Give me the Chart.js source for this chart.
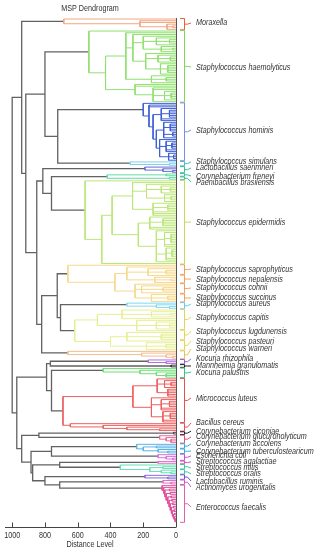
<!DOCTYPE html>
<html>
<head>
<meta charset="utf-8">
<script src="https://cdn.jsdelivr.net/npm/chart.js@4.4.1/dist/chart.umd.min.js"></script>
<style>
  html, body { margin: 0; padding: 0; background: #fff; }
</style>
</head>
<body>
<canvas id="dendro" width="328" height="550"></canvas>
<script>
// clades from top to bottom (leaf counts, colour, level where the clade closes)
const cladeNames = [
  "Moraxella", "S. haemolyticus", "S. hominis", "S. simulans", "L. saerimneri",
  "C. freneyi", "P. brasilensis", "S. epidermidis", "S. saprophyticus grp", "S. aureus",
  "S. capitis grp", "S. warneri", "K. rhizophila", "M. granulomatis", "K. palustris",
  "M. luteus", "B. cereus", "C. ciconiae", "C. glucuronolyticum", "C. accolens grp",
  "E. coli", "S. agalactiae", "S. mitis grp", "L. ruminis", "A. urogenitalis", "E. faecalis"
];
const cladeSizes = [7, 42, 34, 3, 4, 2, 2, 49, 22, 4, 24, 5, 3, 2, 6, 26, 5, 2, 5, 6, 4, 2, 6, 3, 3, 22];
const cladeColors = [
  "#f4a582", "#90e070", "#3f5fd6", "#7dd3ea", "#6a6ad8",
  "#62dca0", "#62dca0", "#bde67a", "#f6d98e", "#80d8f0",
  "#e6ef96", "#f3bc8c", "#b070e0", "#333333", "#72dd78",
  "#ee6060", "#ee6060", "#444444", "#e8709a", "#5ab4e6",
  "#d870d8", "#e070c8", "#66e0b4", "#8a6ae0", "#e070c0", "#e0509e"
];
const cladeRootLevels = [685, 532, 200, 280, 190, 60, 40, 555, 660, 300, 618, 660, 170, 30, 445, 263, 645, 15, 100, 240, 110, 110, 340, 190, 80, 85];

// merges inside each clade: [first leaf, last leaf, level], leaf index relative to the clade
const cladeSubMerges = [
  [[1, 6, 220], [3, 6, 55], [4, 5, 20]],
  [[1, 41, 430], [1, 30, 306], [2, 25, 263], [3, 12, 200], [4, 8, 120], [5, 7, 40], [9, 12, 90], [10, 11, 20],
   [13, 25, 185], [14, 18, 110], [15, 17, 35], [19, 25, 95], [20, 24, 50], [26, 30, 150], [27, 29, 60],
   [31, 41, 250], [33, 41, 140], [35, 40, 70], [36, 39, 30]],
  [[1, 33, 165], [3, 33, 140], [3, 10, 90], [4, 8, 40], [11, 33, 120], [11, 20, 75], [12, 16, 35], [17, 19, 20],
   [21, 33, 100], [22, 28, 60], [23, 26, 25], [29, 33, 45], [30, 32, 15]],
  [[1, 2, 40]],
  [[1, 3, 80], [2, 3, 20]],
  [],
  [],
  [[1, 48, 453], [1, 47, 390], [1, 20, 265], [2, 12, 180], [3, 7, 90], [4, 6, 35], [8, 12, 70], [9, 11, 30],
   [13, 20, 140], [14, 17, 50], [21, 47, 230], [21, 28, 160], [22, 26, 80], [29, 47, 120], [30, 38, 70],
   [31, 36, 30], [39, 46, 60], [40, 44, 25]],
  [[1, 21, 373], [1, 10, 300], [2, 6, 170], [3, 5, 60], [7, 10, 130], [8, 9, 30], [11, 21, 250], [12, 16, 210],
   [13, 15, 80], [17, 21, 150], [18, 20, 50]],
  [[1, 3, 120], [2, 3, 40]],
  [[0, 12, 480], [0, 5, 330], [1, 4, 150], [2, 3, 30], [6, 12, 240], [7, 11, 120], [8, 10, 40],
   [13, 23, 400], [13, 18, 300], [14, 17, 90], [19, 23, 180], [20, 22, 60]],
  [[1, 4, 210], [2, 4, 60], [3, 4, 20]],
  [[1, 2, 60]],
  [],
  [[1, 5, 220], [2, 5, 120], [3, 5, 60]],
  [[0, 10, 115], [1, 5, 70], [2, 4, 30], [6, 10, 50], [11, 25, 150], [12, 18, 90], [13, 16, 40], [19, 25, 80], [20, 23, 35]],
  [[1, 4, 445], [2, 4, 300], [3, 4, 100]],
  [],
  [[1, 4, 60], [2, 4, 30]],
  [[1, 5, 200], [1, 2, 120], [3, 5, 110], [4, 5, 50]],
  [[1, 3, 60], [2, 3, 20]],
  [],
  [[1, 5, 160], [1, 2, 80], [3, 5, 90], [4, 5, 30]],
  [[1, 2, 50]],
  [[1, 2, 30]],
  [[1, 21, 75], [2, 21, 68], [2, 3, 40], [4, 21, 60], [4, 5, 35], [6, 21, 50], [6, 7, 30], [8, 21, 42], [8, 9, 25],
   [10, 21, 35], [10, 11, 20], [12, 21, 28], [12, 13, 15], [14, 21, 22], [14, 15, 12], [16, 21, 16], [16, 17, 8],
   [18, 21, 10], [19, 21, 5]]
];

// merges between clades: [first clade, last clade, level]
const groupMerges = [
  [5, 6, 420], [15, 16, 690],
  [2, 3, 722], [1, 3, 800], [5, 7, 760], [4, 7, 813], [9, 10, 705], [8, 10, 725], [8, 11, 820],
  [4, 11, 850], [1, 11, 917], [0, 11, 942],
  [12, 13, 767], [14, 16, 760], [12, 16, 790], [17, 18, 837], [19, 20, 760], [21, 22, 710],
  [24, 25, 710], [23, 25, 800], [21, 25, 875], [19, 25, 885], [17, 25, 942], [12, 25, 972],
  [0, 25, 1000]
];

// species labels on the right: name, text row, leaf rows covered by the brace, brace colour
const labelNames = [
  "Moraxella", "Staphylococcus haemolyticus", "Staphylococcus hominis", "Staphylococcus simulans",
  "Lactobacillus saerimneri", "Corynebacterium freneyi", "Paenibacillus brasilensis", "Staphylococcus epidermidis",
  "Staphylococcus saprophyticus", "Staphylococcus nepalensis", "Staphylococcus cohnii", "Staphylococcus succinus",
  "Staphylococcus aureus", "Staphylococcus capitis", "Staphylococcus lugdunensis", "Staphylococcus pasteuri",
  "Staphylococcus warneri", "Kocuria rhizophila", "Mannheimia granulomatis", "Kocuria palustris",
  "Micrococcus luteus", "Bacillus cereus", "Corynebacterium ciconiae", "Corynebacterium glucuronolyticum",
  "Corynebacterium accolens", "Corynebacterium tuberculostearicum", "Escherichia coli", "Streptococcus agalactiae",
  "Streptococcus mitis", "Streptococcus oralis", "Lactobacillus ruminis", "Actinomyces urogenitalis",
  "Enterococcus faecalis"
];
const labelRows = [2.3, 27.9, 64.5, 83.0, 86.5, 91.2, 94.7, 117.9, 145.2, 151.0, 156.2, 162.0, 165.5, 173.1,
  181.2, 187.0, 191.6, 197.4, 201.5, 205.0, 220.1, 234.6, 239.3, 242.7, 246.7, 250.9, 253.7, 257.2, 260.7,
  264.2, 268.3, 271.8, 283.4];
const labelSpans = [[0, 6], [7, 48], [49, 82], [83, 85], [86, 89], [90, 91], [92, 93], [94, 142], [143, 148],
  [149, 153], [154, 159], [160, 164], [165, 168], [169, 180], [181, 186], [187, 192], [193, 197], [198, 200],
  [201, 202], [203, 208], [209, 234], [235, 239], [240, 241], [242, 246], [247, 249], [250, 252], [253, 256],
  [257, 258], [259, 261], [262, 264], [265, 267], [268, 270], [271, 292]];
const labelColors = [
  "#e8603c", "#7fd65a", "#7b8fe0", "#4fb8c8", "#3dbf9a", "#3dbf9a", "#3dbf9a", "#c6d85e",
  "#f0a05c", "#f0a05c", "#f0a05c", "#f0a05c", "#6cc6ee", "#e2d65a", "#e2d65a", "#e2d65a",
  "#e8c35a", "#9a5fd6", "#222222", "#3dbf8a", "#e55050", "#e55060", "#222222", "#e0507a",
  "#3aa8e0", "#3aa8e0", "#c850c8", "#d050c0", "#40c8a0", "#40c8a0", "#7050d0", "#c860c8", "#e060b0"
];

const xTickValues = [0, 200, 400, 600, 800, 1000];

const LINK_GREY = "#626262";
const TEXT_COL = "#333333";

// --- turn the merge lists into dendrogram links ---
const leafStart = [];
let totalLeaves = 0;
cladeSizes.forEach((n) => { leafStart.push(totalLeaves); totalLeaves += n; });

const links = [];
cladeSizes.forEach((n, c) => {
  const off = leafStart[c];
  links.push({ s: off, e: off + n - 1, h: cladeRootLevels[c], color: cladeColors[c] });
  cladeSubMerges[c].forEach(([a, b, h]) => links.push({ s: off + a, e: off + b, h: h, color: cladeColors[c] }));
});
groupMerges.forEach(([c1, c2, h]) => {
  const cols = cladeColors.slice(c1, c2 + 1);
  const same = cols.every((col) => col === cols[0]);
  links.push({ s: leafStart[c1], e: leafStart[c2] + cladeSizes[c2] - 1, h: h, color: same ? cols[0] : LINK_GREY });
});
links.sort((a, b) => (a.e - a.s) - (b.e - b.s) || a.h - b.h);

const kids = links.map(() => []);
links.forEach((lk, i) => {
  for (let j = i + 1; j < links.length; j++) {
    if (links[j].s <= lk.s && links[j].e >= lk.e) { kids[j].push({ pos: lk.s, node: i }); break; }
  }
});
for (let leaf = 0; leaf < totalLeaves; leaf++) {
  const j = links.findIndex((lk) => lk.s <= leaf && lk.e >= leaf);
  kids[j].push({ pos: leaf, leaf: true });
}

const segByColor = {};
const nodeY = [];
links.forEach((lk, i) => {
  const ch = kids[i].sort((a, b) => a.pos - b.pos).map((k) =>
    k.leaf ? { y: k.pos, h: 0 } : { y: nodeY[k.node], h: links[k.node].h });
  const first = ch[0];
  const last = ch[ch.length - 1];
  nodeY[i] = (first.y + last.y) / 2;
  if (!segByColor[lk.color]) segByColor[lk.color] = [];
  const pts = segByColor[lk.color];
  pts.push({ x: first.h, y: first.y }, { x: lk.h, y: first.y }, { x: lk.h, y: last.y }, { x: last.h, y: last.y }, { x: null, y: null });
  ch.slice(1, -1).forEach((c) => pts.push({ x: c.h, y: c.y }, { x: lk.h, y: c.y }, { x: null, y: null }));
});

const datasets = Object.keys(segByColor).map((col) => ({
  data: segByColor[col],
  showLine: true,
  borderColor: col,
  borderWidth: col === LINK_GREY ? 1.3 : 1,
  pointRadius: 0,
  spanGaps: false,
  clip: false,
  order: col === LINK_GREY ? 1 : 0
}));

// narrow text, the source picture is squeezed sideways
function squeezeText(ctx, str, px, py, align, font) {
  ctx.save();
  ctx.translate(px, py);
  ctx.scale(0.8, 1);
  ctx.font = font;
  ctx.fillStyle = TEXT_COL;
  ctx.textAlign = align;
  ctx.textBaseline = "middle";
  ctx.fillText(str, 0, 0);
  ctx.restore();
}

const decorations = {
  id: "decorations",
  beforeDatasetsDraw(chart) {
    const { ctx, chartArea, scales: { x } } = chart;
    const x0 = Math.round(x.getPixelForValue(0)) + 0.5;
    ctx.save();
    ctx.strokeStyle = "#555";
    ctx.lineWidth = 1;
    ctx.beginPath();
    ctx.moveTo(x0, chartArea.top - 1);
    ctx.lineTo(x0, chartArea.bottom);
    ctx.stroke();
    ctx.restore();
  },
  afterDraw(chart) {
    const { ctx, chartArea, scales: { x, y } } = chart;
    const x0 = x.getPixelForValue(0);
    const yAxis = Math.round(chartArea.bottom) + 0.5;
    ctx.save();
    // distance axis
    ctx.strokeStyle = "#444";
    ctx.lineWidth = 1;
    ctx.beginPath();
    ctx.moveTo(chartArea.left + 1, yAxis);
    ctx.lineTo(x0, yAxis);
    xTickValues.forEach((v) => {
      const px = Math.round(x.getPixelForValue(v)) + 0.5;
      ctx.moveTo(px, yAxis);
      ctx.lineTo(px, yAxis - 5);
    });
    ctx.stroke();
    xTickValues.forEach((v) => squeezeText(ctx, String(v), x.getPixelForValue(v), yAxis + 8, "center", "9px 'Liberation Sans', Arial, sans-serif"));
    const mid = (chartArea.left + x0) / 2;
    squeezeText(ctx, "Distance Level", mid, yAxis + 17, "center", "9px 'Liberation Sans', Arial, sans-serif");
    squeezeText(ctx, "MSP Dendrogram", mid, 8.5, "center", "9px 'Liberation Sans', Arial, sans-serif");

    // braces and species names
    labelNames.forEach((name, i) => {
      const ys = y.getPixelForValue(labelSpans[i][0] - 0.3);
      const ye = y.getPixelForValue(labelSpans[i][1] + 0.3);
      const ym = (ys + ye) / 2;
      const yt = y.getPixelForValue(labelRows[i]);
      ctx.strokeStyle = labelColors[i];
      ctx.lineWidth = 1;
      ctx.beginPath();
      ctx.moveTo(180, ys);
      ctx.lineTo(184.5, ys);
      ctx.lineTo(184.5, ye);
      ctx.lineTo(180, ye);
      ctx.moveTo(184.5, ym);
      ctx.lineTo(187.5, ym);
      ctx.lineTo(191, yt);
      ctx.stroke();
      squeezeText(ctx, name, 196, yt, "left", "italic 9px 'Liberation Sans', Arial, sans-serif");
    });
    ctx.restore();
  }
};

new Chart(document.getElementById("dendro"), {
  type: "scatter",
  data: { datasets: datasets },
  options: {
    responsive: false,
    animation: false,
    events: [],
    layout: { padding: { left: 4, right: 152, top: 19, bottom: 23 } },
    plugins: { legend: { display: false }, tooltip: { enabled: false } },
    scales: {
      x: { type: "linear", reverse: true, min: 0, max: 1050, display: false },
      y: { type: "linear", reverse: true, min: 0, max: 295, display: false }
    }
  },
  plugins: [decorations]
});
</script>
</body>
</html>
